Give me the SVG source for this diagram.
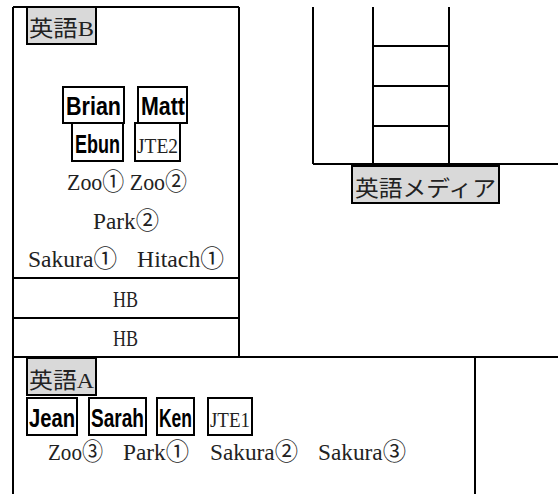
<svg xmlns="http://www.w3.org/2000/svg" width="558" height="494" viewBox="0 0 558 494">
<style>
.ln{stroke:#000;stroke-width:2;fill:none}
.lbl{fill:#d9d9d9;stroke:#000;stroke-width:2}
.box{fill:#fff;stroke:#000;stroke-width:2}
.m{font-family:"Liberation Serif","Noto Sans CJK JP",serif;font-size:24px;fill:#222}
.s{font-family:"Liberation Serif","Noto Sans CJK JP",serif;font-size:21px;fill:#222}
.j{font-family:"Liberation Serif","Noto Sans CJK JP",serif;font-size:22px;fill:#222}
.b{font-family:"Liberation Sans","Noto Sans CJK JP",sans-serif;font-size:26px;font-weight:bold;fill:#000}
</style>
<rect width="558" height="494" fill="#fff"/>
<g id="connectors">
<path class="ln" d="M13,7H239M13,7V494M239,7V357M13,278H239M13,318H239M13,357H558M475,357V494"/>
<path class="ln" d="M313,7V164M373,7V164M449,7V164M373,46H449M373,86H449M373,126H449M313,164H558"/>
</g>
<g id="eigoB">
<rect class="lbl" x="27" y="7" width="69" height="37"/>
<text class="j" x="29" y="36" textLength="65" lengthAdjust="spacingAndGlyphs">英語B</text>
</g>
<g id="brian">
<rect class="box" x="63" y="87" width="61" height="36"/>
<text class="b" x="66" y="115" textLength="55" lengthAdjust="spacingAndGlyphs">Brian</text>
</g>
<g id="matt">
<rect class="box" x="138" y="87" width="49" height="36"/>
<text class="b" x="141" y="115" textLength="44" lengthAdjust="spacingAndGlyphs">Matt</text>
</g>
<g id="ebun">
<rect class="box" x="72" y="123" width="51" height="38"/>
<text class="b" x="75" y="153" textLength="45" lengthAdjust="spacingAndGlyphs">Ebun</text>
</g>
<g id="jte2">
<rect class="box" x="135" y="123" width="45" height="38"/>
<text class="s" x="137" y="153" textLength="41" lengthAdjust="spacingAndGlyphs">JTE2</text>
</g>
<g id="placesB">
<text class="m" x="67" y="190" textLength="120" lengthAdjust="spacingAndGlyphs">Zoo① Zoo②</text>
<text class="m" x="93" y="229" textLength="66" lengthAdjust="spacingAndGlyphs">Park②</text>
<text class="m" x="28" y="267" textLength="89" lengthAdjust="spacingAndGlyphs">Sakura①</text>
<text class="m" x="137" y="267" textLength="87" lengthAdjust="spacingAndGlyphs">Hitach①</text>
</g>
<g id="hb1"><text class="m" x="113" y="307" textLength="25" lengthAdjust="spacingAndGlyphs">HB</text></g>
<g id="hb2"><text class="m" x="113" y="346" textLength="25" lengthAdjust="spacingAndGlyphs">HB</text></g>
<g id="media">
<rect class="lbl" x="352" y="166" width="147" height="37"/>
<text class="j" x="355" y="196" textLength="141" lengthAdjust="spacingAndGlyphs">英語メディア</text>
</g>
<g id="eigoA">
<rect class="lbl" x="27" y="358" width="69" height="37"/>
<text class="j" x="29" y="388" textLength="65" lengthAdjust="spacingAndGlyphs">英語A</text>
</g>
<g id="jean">
<rect class="box" x="27" y="398" width="50" height="37"/>
<text class="b" x="29" y="427" textLength="46" lengthAdjust="spacingAndGlyphs">Jean</text>
</g>
<g id="sarah">
<rect class="box" x="89" y="398" width="57" height="37"/>
<text class="b" x="91" y="427" textLength="53" lengthAdjust="spacingAndGlyphs">Sarah</text>
</g>
<g id="ken">
<rect class="box" x="157" y="398" width="37" height="37"/>
<text class="b" x="159" y="427" textLength="33" lengthAdjust="spacingAndGlyphs">Ken</text>
</g>
<g id="jte1">
<rect class="box" x="208" y="398" width="44" height="37"/>
<text class="s" x="210" y="427" textLength="40" lengthAdjust="spacingAndGlyphs">JTE1</text>
</g>
<g id="placesA">
<text class="m" x="48" y="460" textLength="55" lengthAdjust="spacingAndGlyphs">Zoo③</text>
<text class="m" x="123" y="460" textLength="66" lengthAdjust="spacingAndGlyphs">Park①</text>
<text class="m" x="210" y="460" textLength="88" lengthAdjust="spacingAndGlyphs">Sakura②</text>
<text class="m" x="318" y="460" textLength="88" lengthAdjust="spacingAndGlyphs">Sakura③</text>
</g>
</svg>
